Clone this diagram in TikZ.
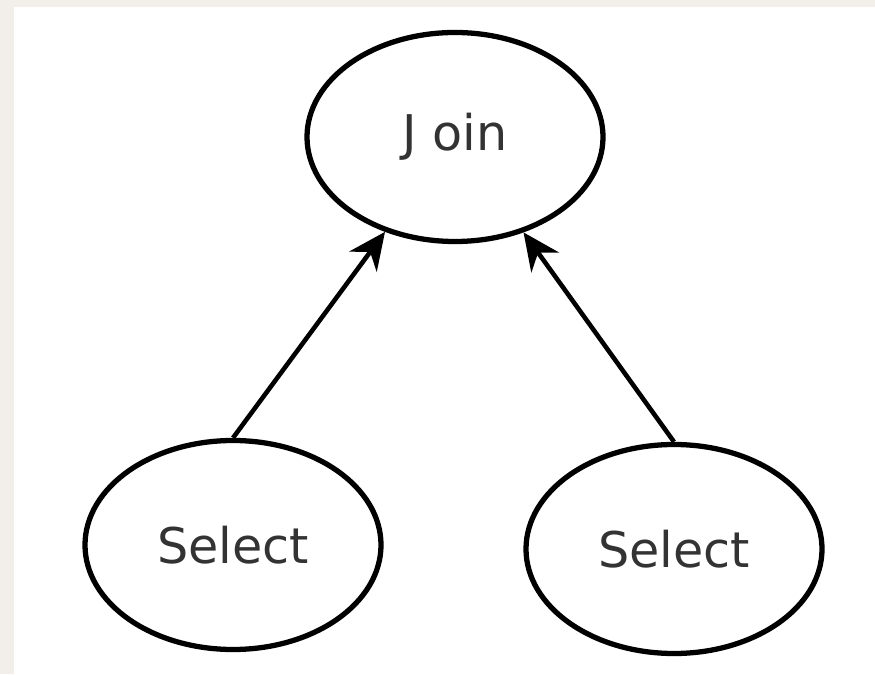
\documentclass[tikz,border=0pt]{standalone}
\usepackage{fontspec}
\setmainfont{DejaVu Sans}
\usetikzlibrary{arrows.meta,shapes.geometric}
\definecolor{PaperBeige}{HTML}{F2EFEA}
\definecolor{LabelGray}{HTML}{333333}

\begin{document}
\begin{tikzpicture}[>={Stealth[length=0.74cm,width=0.68cm,inset=0.24cm]},
    opnode/.style={draw,ellipse,line width=3pt,fill=white,text=LabelGray,
      minimum width=5.92cm,minimum height=4.18cm,font=\fontsize{28}{31}\selectfont}]
  \fill[PaperBeige] (0,0) rectangle (17.5,13.48);
  \fill[white] (0.28,0) rectangle (17.5,13.34);
  \node[opnode] (join) at (9.1,10.74) {J oin};
  \node[opnode] (selL) at (4.66,2.58) {Select};
  \node[opnode] (selR) at (13.48,2.5) {Select};
  \draw[->,line width=2.6pt] (selL.north) -- (join);
  \draw[->,line width=2.6pt] (selR.north) -- (join);
\end{tikzpicture}
\end{document}
